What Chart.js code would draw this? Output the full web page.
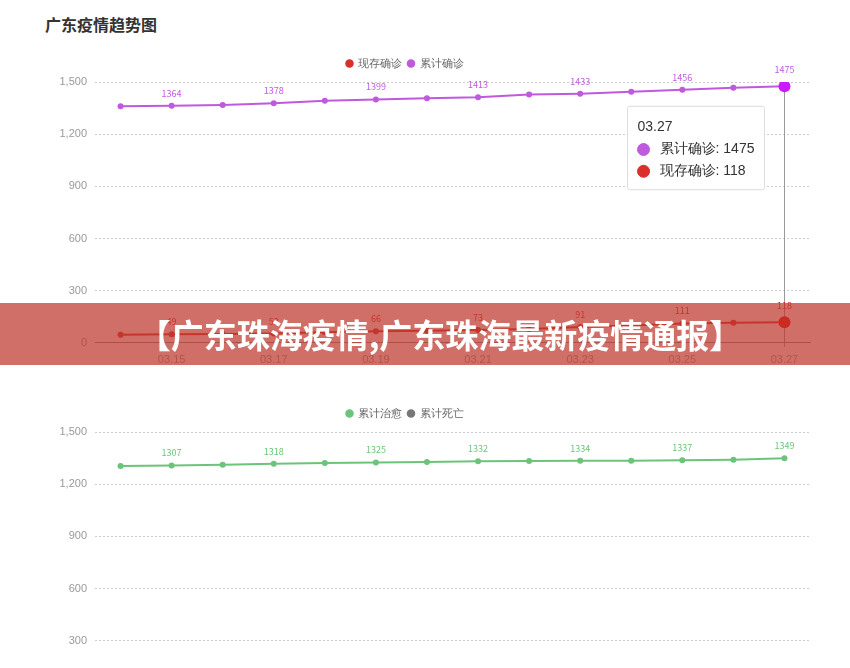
<!DOCTYPE html>
<html>
<head>
<meta charset="utf-8">
<script src="https://cdn.jsdelivr.net/npm/chart.js@4/dist/chart.umd.min.js"></script>
<style>
  html, body { margin: 0; padding: 0; background: #fff; overflow: hidden; }
  body { width: 850px; height: 668px; position: relative; font-family: "Noto Sans CJK SC", "Noto Sans", sans-serif; }
  .title { position: absolute; left: 45px; top: 12px; font-size: 16px; font-weight: bold; color: #333; }
  .box { position: absolute; left: 0; width: 850px; height: 318px; }
  #box1 { top: 52px; }
  #box2 { top: 402px; }
  .banner {
    position: absolute; left: 0; top: 303px; width: 850px; height: 62px;
    background: rgba(190, 55, 45, 0.72);
    color: #fff; font-weight: bold; font-size: 33px; line-height: 62px;
    text-align: center; padding-left: 30px; box-sizing: border-box;
  }
</style>
</head>
<body>
<div class="title">广东疫情趋势图</div>
<div class="box" id="box1"><canvas id="chart1"></canvas></div>
<div class="box" id="box2"><canvas id="chart2"></canvas></div>
<div class="banner">【广东珠海疫情,广东珠海最新疫情通报】</div>
<script>
// 日期
const dates = ['03.14', '03.15', '03.16', '03.17', '03.18', '03.19', '03.20',
               '03.21', '03.22', '03.23', '03.24', '03.25', '03.26', '03.27'];

// 上图数据
const currentConfirmed = [47, 49, 50, 53, 60, 66, 70, 73, 80, 91, 100, 111, 115, 118];
const totalConfirmed = [1361, 1364, 1368, 1378, 1392, 1399, 1407, 1413, 1428, 1433, 1444, 1456, 1467, 1475];

// 下图数据
const totalCured = [1304, 1307, 1312, 1318, 1322, 1325, 1328, 1332, 1333, 1334, 1335, 1337, 1340, 1349];
const totalDeaths = [8, 8, 8, 8, 8, 8, 8, 8, 8, 8, 8, 8, 8, 8];

const yTicks = [0, 300, 600, 900, 1200, 1500];

// 数据标签（每隔一个点显示）
const pointLabels = {
    id: 'pointLabels',
    afterDatasetsDraw(chart) {
        const ctx = chart.ctx;
        ctx.save();
        ctx.font = '9px "Noto Sans CJK SC", sans-serif';
        ctx.textAlign = 'center';
        ctx.textBaseline = 'bottom';
        chart.data.datasets.forEach((ds, i) => {
            const meta = chart.getDatasetMeta(i);
            if (meta.hidden) return;
            meta.data.forEach((pt, j) => {
                if (j % 2 === 0) return;
                const off = pt.active ? 12 : 8;
                ctx.fillStyle = ds.borderColor;
                ctx.fillText(ds.data[j], pt.x, pt.y - off);
            });
        });
        ctx.restore();
    }
};

// 竖线
const crossLine = {
    id: 'crossLine',
    beforeDatasetsDraw(chart) {
        const act = chart.getActiveElements();
        if (!act.length) return;
        const x = Math.round(act[0].element.x);
        const ctx = chart.ctx;
        ctx.save();
        ctx.strokeStyle = '#999';
        ctx.lineWidth = 1;
        ctx.beginPath();
        ctx.moveTo(x + 0.5, chart.chartArea.top);
        ctx.lineTo(x + 0.5, chart.chartArea.bottom + 4);
        ctx.stroke();
        ctx.restore();
    }
};

Chart.Tooltip.positioners.fixedLeft = function(elements) {
    if (!elements.length) return false;
    return { x: elements[0].element.x, y: 96 };
};

function makeScales() {
    return {
        x: {
            offset: true,
            grid: { display: false },
            border: { display: true, color: '#888' },
            ticks: {
                autoSkip: false, maxRotation: 0, color: '#999',
                font: { size: 11 },
                callback: (v, i) => (i % 2 === 1 ? dates[i] : '')
            }
        },
        y: {
            min: 0, max: 1500,
            afterFit(scale) { scale.width = 95; },
            afterBuildTicks(scale) { scale.ticks = yTicks.map(v => ({ value: v })); },
            border: { display: false, dash: [2, 2] },
            grid: { color: '#ccc', drawTicks: false },
            ticks: { color: '#999', font: { size: 11 }, padding: 8,
                     callback: v => v.toLocaleString('en-US') }
        }
    };
}

function lineSet(label, data, color) {
    return {
        label: label, data: data,
        borderColor: color, backgroundColor: color,
        borderWidth: 2, pointRadius: 3, pointHoverRadius: 6,
        pointBorderWidth: 0, pointHoverBorderWidth: 0, tension: 0
    };
}

const legendOpts = {
    position: 'top',
    labels: {
        usePointStyle: true, pointStyle: 'circle', boxWidth: 6, boxHeight: 6,
        color: '#666', font: { size: 11 }, padding: 6
    }
};

// 图例与绘图区之间留空
const legendGap = {
    id: 'legendGap',
    beforeInit(chart) {
        const fit = chart.legend.fit;
        chart.legend.fit = function() {
            fit.bind(chart.legend)();
            this.height += 3;
        };
    }
};

const c1 = new Chart(document.getElementById('chart1'), {
    type: 'line',
    data: {
        labels: dates,
        datasets: [
            lineSet('现存确诊', currentConfirmed, '#d9302a'),
            lineSet('累计确诊', totalConfirmed, '#bf5ade')
        ]
    },
    options: {
        responsive: true, maintainAspectRatio: false, animation: false,
        layout: { padding: { left: 0, right: 40, top: 0 } },
        interaction: { mode: 'index', intersect: false },
        scales: makeScales(),
        plugins: {
            legend: legendOpts,
            tooltip: {
                position: 'fixedLeft', xAlign: 'right', yAlign: 'center',
                caretSize: 0, caretPadding: 20,
                backgroundColor: '#fff', borderColor: '#ddd', borderWidth: 1,
                cornerRadius: 2, padding: { top: 12, bottom: 10, left: 10, right: 10 },
                titleColor: '#333', bodyColor: '#333',
                titleFont: { size: 14, weight: 'normal' }, bodyFont: { size: 14 },
                titleMarginBottom: 6, bodySpacing: 5,
                usePointStyle: true, boxPadding: 8, boxWidth: 12, boxHeight: 12,
                itemSort: (a, b) => b.datasetIndex - a.datasetIndex,
                callbacks: {
                    label: ctx => ctx.dataset.label + ': ' + ctx.raw,
                    labelColor: ctx => ({ borderColor: ctx.dataset.borderColor,
                                          backgroundColor: ctx.dataset.borderColor })
                }
            }
        }
    },
    plugins: [legendGap, pointLabels, crossLine]
});

const c2 = new Chart(document.getElementById('chart2'), {
    type: 'line',
    data: {
        labels: dates,
        datasets: [
            lineSet('累计治愈', totalCured, '#6cc47a'),
            lineSet('累计死亡', totalDeaths, '#777')
        ]
    },
    options: {
        responsive: true, maintainAspectRatio: false, animation: false,
        layout: { padding: { left: 0, right: 40, top: 0 } },
        scales: makeScales(),
        plugins: { legend: legendOpts, tooltip: { enabled: false } }
    },
    plugins: [legendGap, pointLabels]
});

// 默认激活最后一天
const act = [{ datasetIndex: 1, index: 13 }, { datasetIndex: 0, index: 13 }];
c1.setActiveElements(act);
c1.tooltip.setActiveElements(act, { x: 0, y: 0 });
c1.update();
</script>
</body>
</html>
